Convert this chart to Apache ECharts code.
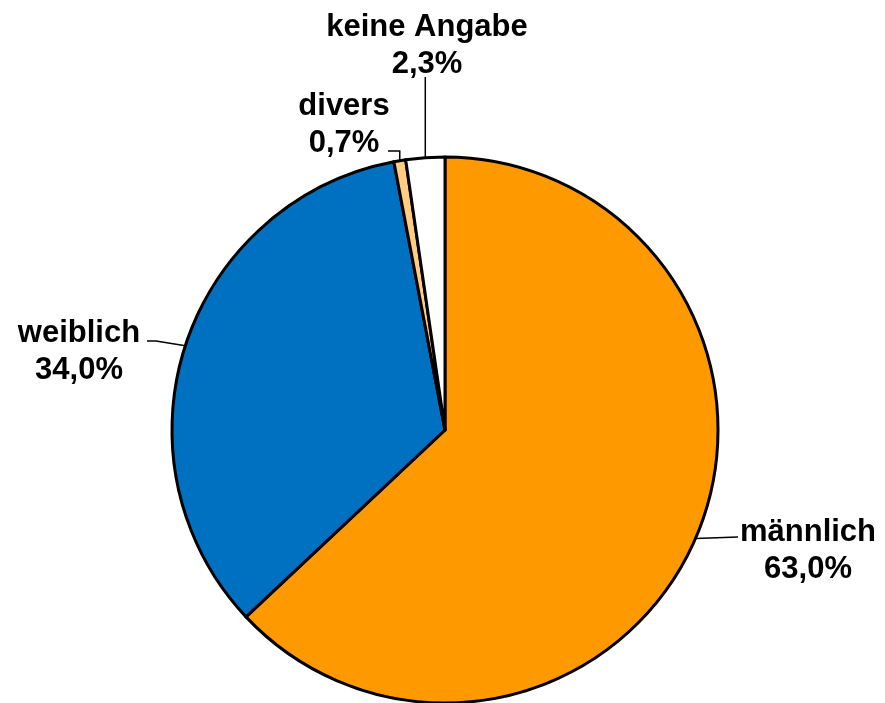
<!DOCTYPE html>
<html>
<head>
<meta charset="utf-8">
<script src="https://cdn.jsdelivr.net/npm/echarts@6/dist/echarts.min.js"></script>
<style>
  html, body { margin: 0; padding: 0; background: #fff; }
  #chart { width: 885px; height: 703px; }
</style>
</head>
<body>
<div id="chart"></div>
<script>
// data, clockwise from 12 o'clock
const categories = ['männlich', 'weiblich', 'divers', 'keine Angabe'];
const shares = [63.0, 34.0, 0.7, 2.3];
const sliceColors = ['#FF9900', '#0070C0', '#FFCC80', '#FFFFFF'];

// where each label block sits (centre) and where its leader line ends
const labelSpots = [
  { x: 808, y: 551, end: [[738, 537]] },
  { x: 79, y: 352, end: [[156, 341], [147, 341]] },
  { x: 344, y: 125, end: [[null, 151], [388, 151]] },
  { x: 427, y: 46, end: [[null, 77]] }
];

const fmt = v => v.toFixed(1).replace('.', ',') + '%';

const chart = echarts.init(document.getElementById('chart'));

chart.setOption({
  backgroundColor: '#fff',
  animation: false,
  series: [{
    type: 'pie',
    center: [445, 430],
    radius: 273,
    startAngle: 90,
    clockwise: true,
    avoidLabelOverlap: false,
    emphasis: { disabled: true },
    itemStyle: { borderColor: '#000', borderWidth: 3 },
    label: {
      show: true,
      position: 'outside',
      formatter: p => p.name + '\n' + fmt(p.value),
      fontFamily: 'Liberation Sans, Arial, sans-serif',
      fontWeight: 'bold',
      fontSize: 31,
      lineHeight: 37,
      color: '#000',
      align: 'center'
    },
    labelLine: {
      show: true,
      length: 10,
      length2: 10,
      lineStyle: { color: '#000', width: 1.5 }
    },
    labelLayout: function (params) {
      const spot = labelSpots[params.dataIndex];
      const pts = params.labelLinePoints;
      const start = pts ? pts[0] : null;
      const out = { x: spot.x, y: spot.y, align: 'center', verticalAlign: 'middle' };
      if (start) {
        out.labelLinePoints = [start].concat(spot.end.map(e => [e[0] == null ? start[0] : e[0], e[1]]));
      }
      return out;
    },
    data: categories.map((c, i) => ({
      name: c,
      value: shares[i],
      itemStyle: { color: sliceColors[i] }
    }))
  }]
});
</script>
</body>
</html>
